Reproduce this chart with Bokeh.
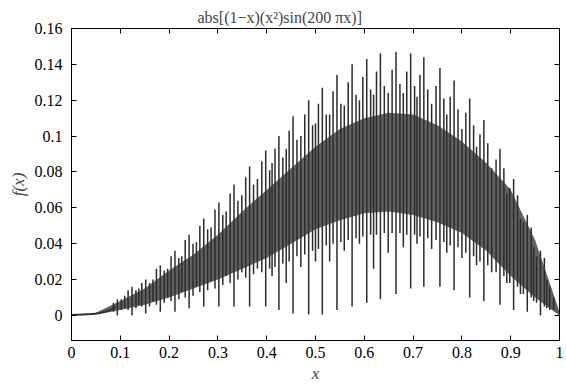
from bokeh.plotting import figure
from bokeh.models import LinearAxis, FixedTicker, ColumnDataSource, Range1d
from bokeh.embed import file_html
from bokeh.resources import INLINE

# ---- data ----
title_text = "abs[(1\u2212x)(x\u00b2)sin(200 \u03c0x)]"
x_ticks = [0, 0.1, 0.2, 0.3, 0.4, 0.5, 0.6, 0.7, 0.8, 0.9, 1.0]
x_tick_labels = ["0", "0.1", "0.2", "0.3", "0.4", "0.5", "0.6", "0.7", "0.8", "0.9", "1"]
y_ticks = [0, 0.02, 0.04, 0.06, 0.08, 0.1, 0.12, 0.14, 0.16]
y_tick_labels = ["0", "0.02", "0.04", "0.06", "0.08", "0.1", "0.12", "0.14", "0.16"]

# dense oscillation band (between spikes)
band_x = [0.0, 0.05, 0.1, 0.15, 0.2, 0.25, 0.3, 0.35, 0.4, 0.45, 0.5, 0.55,
          0.6, 0.65, 0.7, 0.75, 0.8, 0.85, 0.9, 0.95, 1.0]
band_hi = [0.0008, 0.0015, 0.008, 0.015, 0.025, 0.034, 0.045, 0.058, 0.070, 0.082,
           0.094, 0.104, 0.110, 0.113, 0.112, 0.106, 0.097, 0.085, 0.070, 0.042, 0.002]
band_lo = [0.0, 0.0003, 0.003, 0.006, 0.010, 0.015, 0.020, 0.026, 0.032, 0.040,
           0.048, 0.053, 0.057, 0.058, 0.056, 0.052, 0.046, 0.036, 0.022, 0.010, 0.0]

# start of the curve (almost flat near zero)
start_x = [0.0, 0.02, 0.04, 0.05, 0.06, 0.07, 0.08, 0.09]
start_y = [0.0003, 0.0003, 0.0006, 0.001, 0.0015, 0.002, 0.003, 0.005]

# full-height strokes (deep downward spikes)
spike_x = [0.094, 0.124, 0.152, 0.182, 0.212, 0.241, 0.271, 0.302, 0.333, 0.365,
           0.398, 0.425, 0.454, 0.486, 0.514, 0.544, 0.575, 0.605, 0.633, 0.665,
           0.695, 0.722, 0.755, 0.784, 0.816, 0.845, 0.878, 0.906, 0.934, 0.961, 0.988]
spike_low = [0.0, 0.0, 0.001, 0.002, 0.002, 0.004, 0.005, 0.005, 0.005, 0.005,
             0.005, 0.003, 0.001, 0.0005, 0.0005, 0.003, 0.005, 0.007, 0.009, 0.012,
             0.015, 0.016, 0.016, 0.014, 0.010, 0.008, 0.006, 0.003, 0.002, 0.0, 0.003]
spike_top = [0.009, 0.016, 0.020, 0.028, 0.036, 0.045, 0.054, 0.063, 0.073, 0.083,
             0.092, 0.100, 0.111, 0.120, 0.127, 0.134, 0.140, 0.143, 0.146, 0.147,
             0.146, 0.144, 0.138, 0.131, 0.121, 0.109, 0.093, 0.076, 0.056, 0.036, 0.010]

# tall strokes just left of each deep spike
left_x = [0.086, 0.116, 0.144, 0.174, 0.204, 0.233, 0.263, 0.294, 0.325, 0.357,
          0.390, 0.417, 0.446, 0.478, 0.506, 0.536, 0.567, 0.597, 0.625, 0.657,
          0.687, 0.714, 0.747, 0.776, 0.808, 0.837, 0.870, 0.898, 0.926, 0.953, 0.980]
left_low = [0.002, 0.003, 0.005, 0.006, 0.008, 0.010, 0.013, 0.015, 0.018, 0.021,
            0.024, 0.027, 0.030, 0.034, 0.037, 0.040, 0.042, 0.044, 0.045, 0.046,
            0.045, 0.044, 0.042, 0.039, 0.035, 0.030, 0.024, 0.018, 0.012, 0.007, 0.003]
left_top = [0.007, 0.014, 0.018, 0.026, 0.033, 0.042, 0.050, 0.059, 0.068, 0.077,
            0.086, 0.093, 0.103, 0.112, 0.118, 0.125, 0.130, 0.133, 0.136, 0.137,
            0.136, 0.134, 0.128, 0.122, 0.113, 0.101, 0.087, 0.071, 0.052, 0.033, 0.016]

# strokes just right of each deep spike
right_x = [0.102, 0.132, 0.160, 0.190, 0.220, 0.249, 0.279, 0.310, 0.341, 0.373,
           0.406, 0.433, 0.462, 0.494, 0.522, 0.552, 0.583, 0.613, 0.641, 0.673,
           0.703, 0.730, 0.763, 0.792, 0.824, 0.853, 0.886, 0.914, 0.942, 0.969]
right_low = [0.003, 0.004, 0.005, 0.007, 0.009, 0.011, 0.014, 0.017, 0.020, 0.023,
             0.026, 0.029, 0.033, 0.036, 0.039, 0.041, 0.043, 0.045, 0.046, 0.046,
             0.045, 0.043, 0.041, 0.038, 0.033, 0.028, 0.022, 0.016, 0.010, 0.005]
right_top = [0.009, 0.014, 0.018, 0.025, 0.032, 0.040, 0.048, 0.056, 0.064, 0.073,
             0.081, 0.088, 0.098, 0.106, 0.112, 0.118, 0.123, 0.126, 0.128, 0.129,
             0.128, 0.126, 0.121, 0.115, 0.106, 0.096, 0.082, 0.067, 0.049, 0.032]

# secondary strokes midway between the deep spikes
mid_x = [0.109, 0.138, 0.167, 0.197, 0.226, 0.256, 0.286, 0.317, 0.349, 0.381,
         0.411, 0.440, 0.470, 0.500, 0.529, 0.559, 0.590, 0.619, 0.649, 0.680,
         0.708, 0.738, 0.769, 0.800, 0.830, 0.861, 0.892, 0.920, 0.947, 0.974]
mid_low = [0.004, 0.006, 0.008, 0.010, 0.013, 0.016, 0.019, 0.022, 0.024, 0.026,
           0.022, 0.018, 0.027, 0.030, 0.030, 0.036, 0.040, 0.026, 0.035, 0.038,
           0.040, 0.037, 0.035, 0.032, 0.028, 0.024, 0.018, 0.012, 0.008, 0.004]
mid_top = [0.011, 0.015, 0.020, 0.026, 0.033, 0.041, 0.049, 0.058, 0.067, 0.076,
           0.085, 0.093, 0.100, 0.107, 0.112, 0.117, 0.120, 0.123, 0.124, 0.124,
           0.122, 0.118, 0.112, 0.104, 0.094, 0.082, 0.068, 0.054, 0.038, 0.020]

FONT = "'Liberation Serif', 'Times New Roman', serif"
INK = "#2b2b2b"

p = figure(width=566, height=385, output_backend="svg", toolbar_location=None,
           x_range=Range1d(0, 1), y_range=Range1d(-0.014, 0.16),
           min_border_left=71, min_border_right=7, min_border_top=28, min_border_bottom=44)

p.title.text = title_text
p.title.text_font = FONT
p.title.text_font_size = "16px"
p.title.text_font_style = "normal"
p.title.align = "left"
p.title.offset = 126
p.title.standoff = 6

p.xgrid.visible = False
p.ygrid.visible = False
p.outline_line_color = "black"
p.outline_line_width = 1
p.background_fill_color = "white"
p.border_fill_color = "white"

for ax, ticks, labels in ((p.xaxis[0], x_ticks, x_tick_labels), (p.yaxis[0], y_ticks, y_tick_labels)):
    ax.ticker = FixedTicker(ticks=ticks)
    ax.major_label_overrides = {t: l for t, l in zip(ticks, labels)}
    ax.major_tick_in = 5
    ax.major_tick_out = 0
    ax.minor_tick_line_color = None
    ax.major_label_text_font = FONT
    ax.major_label_text_font_size = "16px"
    ax.major_label_text_color = "black"
    ax.axis_label_text_font = FONT
    ax.axis_label_text_font_size = "17px"
    ax.axis_label_text_font_style = "italic"
    ax.axis_line_color = "black"
    ax.major_tick_line_color = "black"

p.xaxis[0].axis_label = "x"
p.xaxis[0].major_label_standoff = 6
p.xaxis[0].axis_label_standoff = 3
p.yaxis[0].axis_label = "f(x)"
p.yaxis[0].major_label_standoff = 9
p.yaxis[0].axis_label_standoff = 4

for loc, ticks in (("right", y_ticks), ("above", x_ticks)):
    a = LinearAxis(ticker=FixedTicker(ticks=ticks))
    a.major_label_text_font_size = "1px"
    a.major_label_text_color = None
    a.major_label_standoff = 0
    a.major_tick_in = 5
    a.major_tick_out = 0
    a.minor_tick_line_color = None
    a.axis_line_color = "black"
    p.add_layout(a, loc)

band = ColumnDataSource(dict(x=band_x, hi=band_hi, lo=band_lo))
p.varea(x="x", y1="lo", y2="hi", source=band, fill_color="#3a3a3a", fill_alpha=0.8)

for xs, lo, hi in ((mid_x, mid_low, mid_top), (left_x, left_low, left_top),
                   (right_x, right_low, right_top), (spike_x, spike_low, spike_top)):
    src = ColumnDataSource(dict(x=xs, lo=lo, hi=hi))
    p.segment(x0="x", y0="lo", x1="x", y1="hi", source=src, line_color=INK, line_width=1.5)

p.line(start_x, start_y, line_color=INK, line_width=1.5)

open("out.html", "w").write(file_html(p, INLINE))
